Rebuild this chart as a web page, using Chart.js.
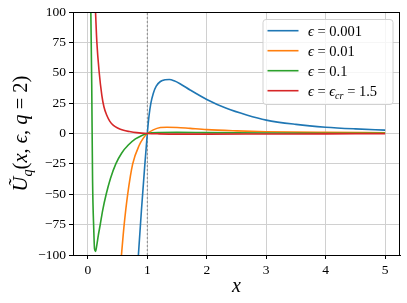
<!DOCTYPE html>
<html>
<head>
<meta charset="utf-8">
<script src="https://cdn.jsdelivr.net/npm/chart.js@4.4.1/dist/chart.umd.min.js"></script>
<style>
  html, body { margin: 0; padding: 0; background: #fff; }
  canvas { display: block; }
</style>
</head>
<body>
<canvas id="potChart" width="407" height="303"></canvas>
<script>
// values
var seriesLabels = ['ϵ = 0.001', 'ϵ = 0.01', 'ϵ = 0.1', 'ϵ = ϵ_{cr} = 1.5'];
var seriesColors = ['#1f77b4', '#ff7f0e', '#2ca02c', '#d62728'];

var xBlue = [0.85, 0.9, 0.95, 1.0, 1.03, 1.06, 1.1, 1.15, 1.22, 1.3, 1.37, 1.45, 1.55, 1.72, 2.0, 2.33, 2.67, 3.0, 3.5, 4.0, 4.5, 5.0];
var yBlue = [-100, -64, -31, 0, 15, 25, 33, 39, 42.8, 44.2, 44.4, 43.4, 41, 35.8, 28, 20.7, 15.2, 11, 7.5, 5.2, 3.8, 2.8];

var xOrange = [0.565, 0.61, 0.67, 0.754, 0.866, 0.93, 1.0, 1.1, 1.22, 1.33, 1.5, 1.72, 2.0, 2.5, 3.0, 4.0, 5.0];
var yOrange = [-100, -75.3, -50, -25, -9.5, -4, 0, 3, 4.9, 5.2, 5, 4.2, 3.2, 2.2, 1.5, 0.9, 0.6];

var xGreen = [0.05, 0.065, 0.079, 0.1, 0.112, 0.129, 0.15, 0.175, 0.207, 0.25, 0.308, 0.38, 0.47, 0.57, 0.68, 0.8, 0.9, 1.0, 1.2, 1.5, 2.0, 3.0, 4.0, 5.0];
var yGreen = [100, 40, -38, -80, -95, -97, -92, -84, -75.3, -63, -50, -37, -25, -16, -9.5, -4.5, -1.8, 0, 0.8, 0.9, 0.7, 0.4, 0.25, 0.15];

var xRed = [0.129, 0.151, 0.19, 0.235, 0.27, 0.318, 0.37, 0.43, 0.5, 0.6, 0.7, 0.82, 1.0, 1.2, 1.5, 2.0, 3.0, 4.0, 5.0];
var yRed = [100, 75.3, 50.6, 31.4, 22, 15, 10, 6.7, 4.5, 2.6, 1.6, 0.7, 0, -0.3, -0.5, -0.5, -0.4, -0.3, -0.2];

var xTicks = [0, 1, 2, 3, 4, 5];
var vLineX = 1;
var xLabel = 'x';
var yLabel = 'U\u0303_q(x, ϵ, q = 2)';

function pts(xs, ys) {
    return xs.map(function(x, i) { return {x: x, y: ys[i]}; });
}

var SERIF = '"Liberation Serif", "DejaVu Serif", serif';

// tiny mathtext: letters italic, _x or _{..} subscript
function mathPieces(str) {
    var out = [];
    var i = 0;
    while (i < str.length) {
        var c = str[i];
        if (c === '_') {
            var sub;
            if (str[i + 1] === '{') {
                var j = str.indexOf('}', i);
                sub = str.slice(i + 2, j);
                i = j + 1;
            } else {
                sub = str[i + 1];
                i += 2;
            }
            for (var k = 0; k < sub.length; k++) out.push({t: sub[k], sub: true, it: /\p{L}/u.test(sub[k])});
            continue;
        }
        var t = c;
        while (i + 1 < str.length && /\p{M}/u.test(str[i + 1])) { t += str[i + 1]; i++; }
        out.push({t: t, sub: false, it: /\p{L}/u.test(c)});
        i++;
    }
    return out;
}

function drawMath(ctx, str, x, y, size) {
    var pieces = mathPieces(str);
    var cx = x;
    ctx.textBaseline = 'alphabetic';
    ctx.textAlign = 'left';
    pieces.forEach(function(p) {
        var s = p.sub ? size * 0.7 : size;
        ctx.font = (p.it ? 'italic ' : '') + s + 'px ' + SERIF;
        ctx.fillText(p.t, cx, y + (p.sub ? size * 0.22 : 0));
        cx += ctx.measureText(p.t).width;
    });
    return cx - x;
}

function mathWidth(ctx, str, size) {
    var w = 0;
    mathPieces(str).forEach(function(p) {
        var s = p.sub ? size * 0.7 : size;
        ctx.font = (p.it ? 'italic ' : '') + s + 'px ' + SERIF;
        w += ctx.measureText(p.t).width;
    });
    return w;
}

var decorPlugin = {
    id: 'decor',
    afterDraw: function(chart) {
        var ctx = chart.ctx;
        var a = chart.chartArea;
        ctx.save();
        // frame
        ctx.strokeStyle = '#000';
        ctx.lineWidth = 1;
        ctx.strokeRect(a.left + 0.5, a.top + 0.5, a.right - a.left - 1, a.bottom - a.top);

        // legend
        var bx = 263, by = 19.5, bw = 130, bh = 85;
        ctx.fillStyle = 'rgba(255,255,255,0.8)';
        ctx.strokeStyle = 'rgba(204,204,204,0.9)';
        ctx.beginPath();
        ctx.roundRect(bx, by, bw, bh, 3);
        ctx.fill();
        ctx.stroke();
        seriesLabels.forEach(function(lab, i) {
            var ry = 30.7 + 20 * i;
            ctx.strokeStyle = seriesColors[i];
            ctx.lineWidth = 1.6;
            ctx.beginPath();
            ctx.moveTo(267.5, ry);
            ctx.lineTo(298.5, ry);
            ctx.stroke();
            ctx.fillStyle = '#000';
            drawMath(ctx, lab, 308, ry + 4.8, 14.5);
        });

        // axis titles
        ctx.fillStyle = '#000';
        var xw = mathWidth(ctx, xLabel, 20);
        drawMath(ctx, xLabel, (a.left + a.right) / 2 - xw / 2, 292, 20);

        ctx.translate(27, (a.top + a.bottom) / 2);
        ctx.rotate(-Math.PI / 2);
        var yw = mathWidth(ctx, yLabel, 20.5);
        drawMath(ctx, yLabel, -yw / 2, 0, 20.5);
        ctx.restore();
    }
};

var lineDs = function(i, xs, ys, order) {
    return {
        label: seriesLabels[i],
        data: pts(xs, ys),
        borderColor: seriesColors[i],
        backgroundColor: seriesColors[i],
        borderWidth: 1.6,
        pointRadius: 0,
        cubicInterpolationMode: 'monotone',
        order: order
    };
};

var ctx = document.getElementById('potChart').getContext('2d');
var potChart = new Chart(ctx, {
    type: 'line',
    data: {
        datasets: [
            lineDs(0, xBlue, yBlue, 4),
            lineDs(1, xOrange, yOrange, 3),
            lineDs(2, xGreen, yGreen, 2),
            lineDs(3, xRed, yRed, 1),
            {
                label: 'x = 1',
                data: [{x: vLineX, y: -100}, {x: vLineX, y: 100}],
                borderColor: '#8a8a8a',
                borderWidth: 1,
                borderDash: [2, 2],
                pointRadius: 0,
                order: 5
            }
        ]
    },
    options: {
        responsive: false,
        animation: false,
        devicePixelRatio: 1,
        layout: { padding: { left: 0, top: 12, right: 7, bottom: 0 } },
        plugins: {
            legend: { display: false },
            tooltip: { enabled: false }
        },
        scales: {
            x: {
                type: 'linear',
                min: -0.25,
                max: 5.25,
                afterBuildTicks: function(scale) {
                    scale.ticks = xTicks.map(function(v) { return {value: v}; });
                },
                afterFit: function(scale) { scale.height = 48; },
                grid: { color: '#d0d0d0', lineWidth: 1, tickLength: 4, tickColor: '#000' },
                border: { color: '#000', width: 1 },
                ticks: {
                    color: '#000',
                    padding: 3,
                    maxRotation: 0,
                    font: { family: SERIF, size: 13.5 }
                }
            },
            y: {
                type: 'linear',
                min: -100,
                max: 100,
                afterFit: function(scale) { scale.width = 73; },
                grid: { color: '#d0d0d0', lineWidth: 1, tickLength: 4, tickColor: '#000' },
                border: { color: '#000', width: 1 },
                ticks: {
                    stepSize: 25,
                    color: '#000',
                    padding: 3,
                    font: { family: SERIF, size: 13.5 },
                    callback: function(v) { return v < 0 ? '\u2212' + Math.abs(v) : '' + v; }
                }
            }
        }
    },
    plugins: [decorPlugin]
});
</script>
</body>
</html>
